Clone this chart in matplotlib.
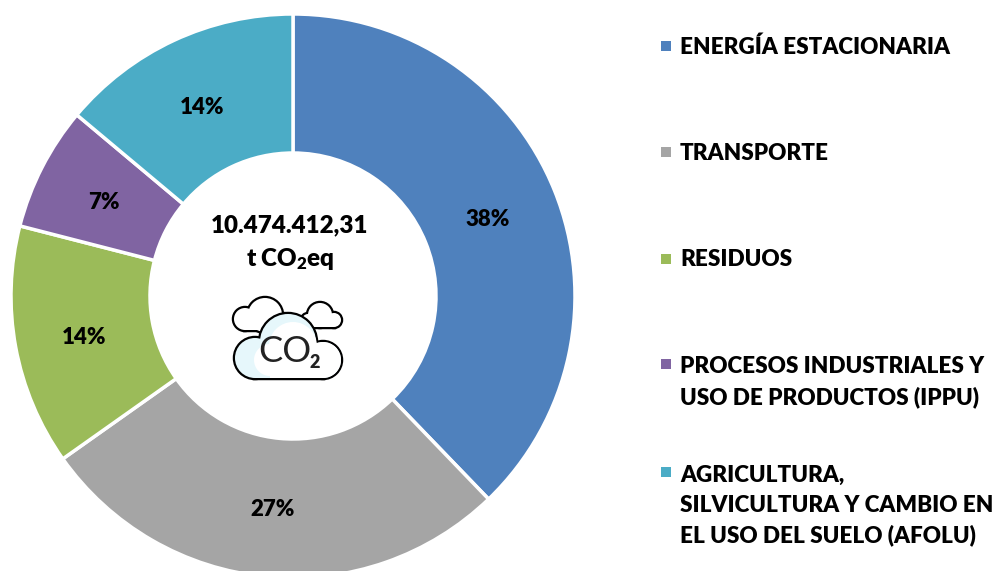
import matplotlib
matplotlib.use("Agg")
import matplotlib.pyplot as plt
from matplotlib.patches import Circle, Rectangle

plt.rcParams["font.family"] = "Lato"
plt.rcParams["font.weight"] = "heavy"
plt.rcParams["mathtext.default"] = "regular"

# shares of the total
categories = ["ENERGÍA ESTACIONARIA", "TRANSPORTE", "RESIDUOS",
              "PROCESOS INDUSTRIALES Y\nUSO DE PRODUCTOS (IPPU)",
              "AGRICULTURA,\nSILVICULTURA Y CAMBIO EN\nEL USO DEL SUELO (AFOLU)"]
shares = [37.8, 27.4, 13.8, 7.1, 13.9]
colors = ["#4F81BD", "#A5A5A5", "#9BBB59", "#8064A2", "#4BACC6"]
legend_y = [47, 153, 260, 382, 506]
total_label = "10.474.412,31"
unit_label = "t CO$_2$eq"

W, H = 996, 571
fig = plt.figure(figsize=(W / 100, H / 100), dpi=100)
ax = fig.add_axes([0, 0, 1, 1])

cx, cy, R = 293, H - 296, 282
wedges, texts, pct_texts = ax.pie(
    shares, colors=colors, startangle=90, counterclock=False,
    center=(cx, cy), radius=R, autopct="%.0f%%", pctdistance=0.75,
    wedgeprops=dict(width=R - 143, edgecolor="white", linewidth=2.5),
    textprops=dict(fontsize=16, color="black", weight="heavy"))
# labels sit a little below the ring's centre line in the original
for t in pct_texts:
    x, y = t.get_position()
    t.set_position((x - 1, y - 3))
ax.set_xlim(0, W)
ax.set_ylim(0, H)
ax.set_aspect("equal")
ax.axis("off")

ax.text(290, H - 225, total_label, ha="center", va="center", fontsize=17.4)
ax.text(290, H - 259, unit_label, ha="center", va="center", fontsize=17.4)

# legend, spaced by hand because the entries have different heights
for name, col, y in zip(categories, colors, legend_y):
    n_lines = name.count("\n") + 1
    top = y - 33.5 * (n_lines - 1) / 2
    ax.add_patch(Rectangle((661, H - top - 4), 10, 10, color=col, lw=0))
    ax.text(680, H - y, name, ha="left", va="center", fontsize=16.2,
            linespacing=1.5)


# cloud icon: outlined circles, then the same circles again without edge
def cloud(lobes, box, fill, outline=True):
    for edge in ([True, False] if outline else [False]):
        shapes = [Circle((x, H - y), r) for x, y, r in lobes]
        shapes.append(Rectangle((box[0], H - box[3]), box[2] - box[0], box[3] - box[1]))
        for s in shapes:
            s.set(facecolor=fill, edgecolor="black" if edge else "none",
                  linewidth=3.2 if edge else 0, zorder=5)
            ax.add_patch(s)


cloud([(245, 319, 11), (265, 315, 17), (283, 322, 8)], (245, 319, 285, 330), "white")
cloud([(308, 320, 6), (320, 315, 12), (334, 320, 7)], (308, 319, 334, 327), "white")
cloud([(255, 358, 20), (288, 342, 28), (323, 360, 18)], (255, 345, 323, 378), "#E6F7FB")
cloud([(270, 360, 16), (293, 346, 24), (323, 360, 18)], (270, 345, 323, 378), "white", outline=False)
ax.text(285, H - 351, "CO", ha="center", va="center", fontsize=26, color="#222222",
        fontweight="normal", zorder=6)
ax.text(315, H - 363, "2", ha="center", va="center", fontsize=13, color="#222222", zorder=6)

fig.savefig("out.png", dpi=100)
